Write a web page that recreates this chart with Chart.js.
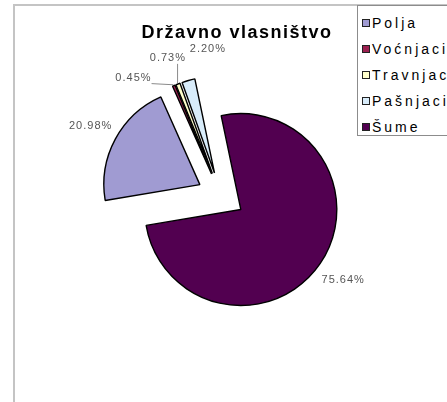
<!DOCTYPE html>
<html>
<head>
<meta charset="utf-8">
<script src="https://cdn.jsdelivr.net/npm/chart.js@4/dist/chart.umd.min.js"></script>
<style>
  body { margin: 0; background: #fff; }
  #wrap { position: relative; width: 447px; height: 402px; overflow: hidden; background: #fff; }
  #frame {
    position: absolute; left: 13px; top: 4px; width: 600px; height: 600px;
    border-left: 2px solid #c4c4c4; border-top: 2px solid #c4c4c4;
  }
  #pie { position: absolute; left: 0; top: 0; }
  #title {
    position: absolute; left: 137px; top: 23px; width: 200px; text-align: center;
    font: bold 18px/18px "Liberation Sans", Arial, sans-serif; letter-spacing: 1.5px; color: #000;
  }
  #legend {
    position: absolute; left: 357px; top: 5px; width: 140px; height: 131px;
    border: 1px solid #8c8c8c; background: #fff; padding-top: 4px; box-sizing: border-box;
    font: 14px "Liberation Sans", Arial, sans-serif; letter-spacing: 3px; color: #000;
  }
  #legend .row { height: 26px; line-height: 26px; white-space: nowrap; }
  #legend .box {
    display: inline-block; width: 6px; height: 6px; border: 1px solid #222;
    margin: 0 2px 0 4px; vertical-align: middle; position: relative; top: -1px;
  }
</style>
</head>
<body>
<div id="wrap">
  <div id="frame"></div>
  <canvas id="pie" width="447" height="402"></canvas>
  <div id="title">Državno vlasništvo</div>
  <div id="legend"></div>
</div>
<script>
// land use categories and their share (%)
const categories = ['Polja', 'Voćnjaci', 'Travnjaci', 'Pašnjaci', 'Šume'];
const shares = [20.98, 0.45, 0.73, 2.20, 75.64];
const sliceColors = ['#a09bd2', '#9b2050', '#ffffcc', '#d8ecfa', '#520050'];

// Exploded arcs get a bigger radius and a narrower angle from ArcElement.draw;
// undo both so every slice keeps the same radius and its true share.
const evenRadius = {
  id: 'evenRadius',
  afterDatasetUpdate(chart, args) {
    const meta = args.meta;
    const R = meta.controller.outerRadius;
    meta.data.forEach((arc) => {
      const shift = (arc.options.offset || 0) / 4;
      const fix = 1 - Math.sin(Math.min(Math.PI, arc.circumference || 0));
      const grow = shift * fix;
      const widen = grow / (2 * Math.PI * R);
      arc.outerRadius = R - grow;
      arc.startAngle -= widen;
      arc.endAngle += widen;
    });
  },
};

// percentage labels outside the slices, tiny ones fanned out with leader lines
const sliceLabels = {
  id: 'sliceLabels',
  afterDatasetsDraw(chart) {
    const { ctx } = chart;
    const meta = chart.getDatasetMeta(0);
    const R = meta.controller.outerRadius;
    const values = chart.data.datasets[0].data;
    const mids = meta.data.map((a) => (a.startAngle + a.endAngle) / 2);
    const angles = mids.slice();
    const tiny = values.map((v, i) => i).filter((i) => values[i] < 3);
    if (tiny.length) {
      // fan the tiny labels around the middle one of the group
      const centre = mids[tiny[Math.floor(tiny.length / 2)]];
      const step = (18 * Math.PI) / 180;
      tiny.forEach((i, k) => {
        angles[i] = centre + (k - (tiny.length - 1) / 2) * step;
      });
    }

    ctx.save();
    ctx.font = '11px "Liberation Sans", Arial, sans-serif';
    ctx.letterSpacing = '1px';
    ctx.textAlign = 'center';
    ctx.textBaseline = 'middle';
    meta.data.forEach((arc, i) => {
      const shift = (arc.options.offset || 0) / 4;
      const cx = arc.x + Math.cos(mids[i]) * shift;
      const cy = arc.y + Math.sin(mids[i]) * shift;
      const lx = cx + Math.cos(angles[i]) * (R + 28);
      const ly = cy + Math.sin(angles[i]) * (R + 28);
      const text = values[i].toFixed(2) + '%';

      if (values[i] < 1) {
        const tx = cx + Math.cos(mids[i]) * (R + 1);
        const ty = cy + Math.sin(mids[i]) * (R + 1);
        const w = ctx.measureText(text).width / 2;
        const sx = Math.min(Math.max(tx, lx - w), lx + w);
        const sy = Math.min(Math.max(ty, ly - 6), ly + 6);
        ctx.strokeStyle = '#8a8a8a';
        ctx.lineWidth = 1;
        ctx.beginPath();
        ctx.moveTo(sx, sy);
        ctx.lineTo(tx, ty);
        ctx.stroke();
      }
      ctx.fillStyle = '#555';
      ctx.fillText(text, lx, ly);
    });
    ctx.restore();
  },
};

new Chart(document.getElementById('pie'), {
  type: 'pie',
  data: {
    labels: categories,
    datasets: [
      {
        data: shares,
        backgroundColor: sliceColors,
        borderColor: '#000',
        borderWidth: 1.4,
        offset: 96,
        radius: 96,
      },
    ],
  },
  options: {
    responsive: false,
    animation: false,
    events: [],
    rotation: 260.5,
    layout: {
      padding: { left: 0, right: 5, top: 0, bottom: 10 },
    },
    plugins: {
      legend: { display: false },
      tooltip: { enabled: false },
    },
  },
  plugins: [evenRadius, sliceLabels],
});

// legend box
const legend = document.getElementById('legend');
categories.forEach((name, i) => {
  const row = document.createElement('div');
  row.className = 'row';
  const box = document.createElement('span');
  box.className = 'box';
  box.style.background = sliceColors[i];
  row.appendChild(box);
  row.appendChild(document.createTextNode(name));
  legend.appendChild(row);
});
</script>
</body>
</html>
